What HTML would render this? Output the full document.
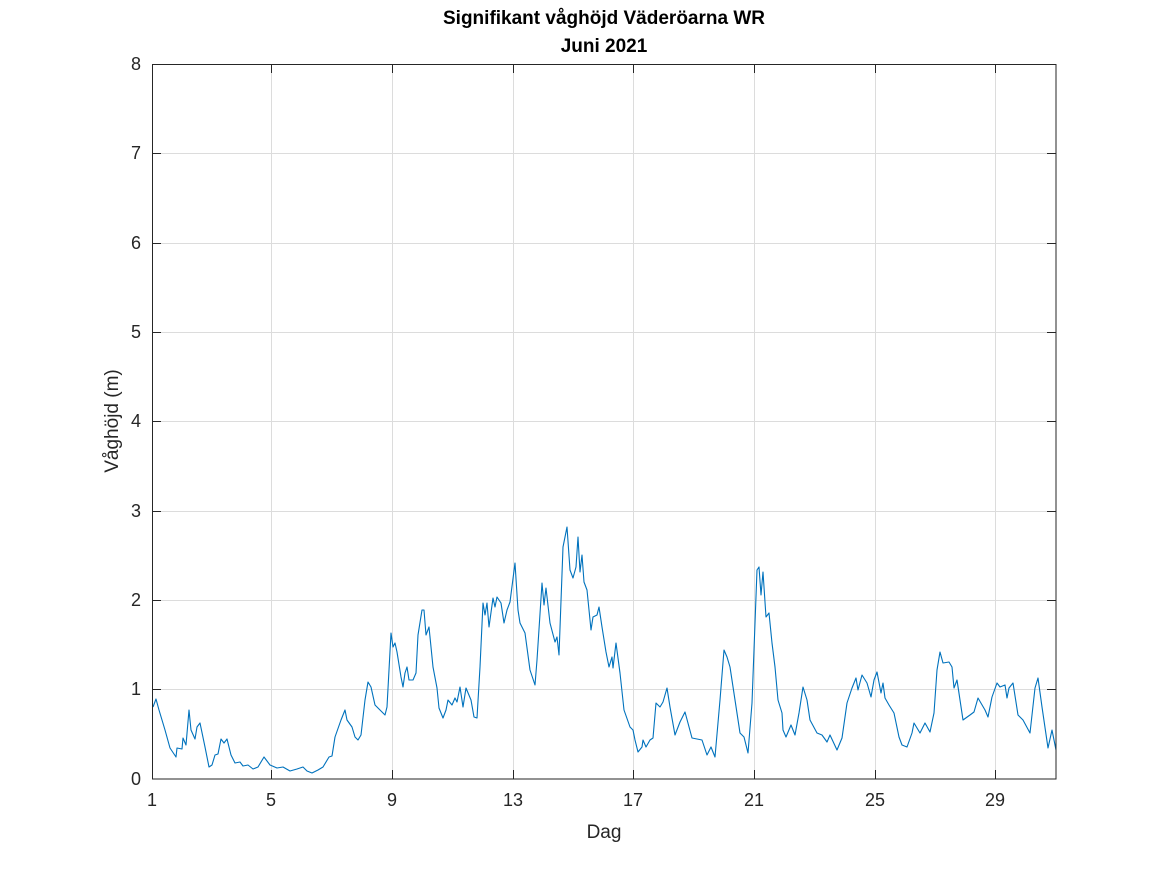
<!DOCTYPE html>
<html><head><meta charset="utf-8"><style>body{margin:0;background:#fff}</style></head><body>
<svg width="1167" height="875" xmlns="http://www.w3.org/2000/svg" font-family="Liberation Sans, DejaVu Sans, sans-serif">
<rect width="1167" height="875" fill="#fff"/>
<g stroke="#dcdcdc" stroke-width="1">
<line x1="271.5" y1="64" x2="271.5" y2="779"/><line x1="392.5" y1="64" x2="392.5" y2="779"/><line x1="513.5" y1="64" x2="513.5" y2="779"/><line x1="633.5" y1="64" x2="633.5" y2="779"/><line x1="754.5" y1="64" x2="754.5" y2="779"/><line x1="875.5" y1="64" x2="875.5" y2="779"/><line x1="995.5" y1="64" x2="995.5" y2="779"/>
<line x1="152" y1="689.5" x2="1056" y2="689.5"/><line x1="152" y1="600.5" x2="1056" y2="600.5"/><line x1="152" y1="511.5" x2="1056" y2="511.5"/><line x1="152" y1="421.5" x2="1056" y2="421.5"/><line x1="152" y1="332.5" x2="1056" y2="332.5"/><line x1="152" y1="243.5" x2="1056" y2="243.5"/><line x1="152" y1="153.5" x2="1056" y2="153.5"/>
</g>
<polyline fill="none" stroke="#0072BD" stroke-width="1.1" stroke-linejoin="round" points="153,707 156,699 159,710 165,730 170,748 176,757 177,748 182,749 183,738 186,745 189,710 191,730 195,739 197,727 200,723 205,747 209,767 212,765 215,755 218,754 221,739 224,743 227,739 231,755 235,763 240,762 243,766 248,765 253,769 258,767 264,757 270,765 277,768 283,767 290,771 297,769 303,767 307,771 312,773 318,770 323,767 329,757 332,756 335,737 341,720 345,710 347,720 352,727 355,737 358,740 361,735 365,700 368,682 371,687 375,705 380,710 385,715 387,707 391,633 393,647 395,643 397,652 401,677 403,687 405,673 407,667 409,680 413,680 416,673 418,635 422,610 424,610 426,635 429,627 433,667 437,688 439,708 443,718 446,710 448,700 452,705 455,698 457,702 460,687 463,707 466,688 471,700 474,717 477,718 480,667 483,603 485,615 487,603 489,627 493,598 495,607 497,597 501,603 504,623 507,610 510,602 515,563 518,610 520,623 525,633 530,670 535,685 537,660 542,583 544,605 546,588 550,623 555,642 557,637 559,655 563,547 567,527 570,570 573,578 576,567 578,537 580,572 582,555 584,582 587,590 591,630 593,617 597,615 599,607 602,627 606,652 609,667 612,657 613,668 616,643 620,673 624,710 630,727 633,730 635,740 638,752 642,747 643,740 646,747 650,740 653,738 656,703 660,707 663,702 667,688 670,707 675,735 680,722 685,712 692,738 702,740 707,755 711,747 715,757 720,700 724,650 727,657 730,667 735,700 740,733 744,737 748,753 752,703 757,570 759,567 761,595 763,572 766,617 769,613 772,643 775,667 778,700 782,713 783,730 786,737 791,725 795,735 799,713 803,687 807,700 810,720 817,733 822,735 827,742 830,735 837,750 842,738 847,703 852,688 856,678 858,690 862,675 867,683 871,697 874,680 877,672 881,693 883,683 885,698 889,705 894,713 899,737 902,745 907,747 912,733 914,723 920,733 925,723 930,732 934,713 937,670 940,652 943,663 949,662 952,667 954,688 957,680 963,720 970,715 974,712 978,698 985,710 988,717 992,697 997,683 1000,687 1005,685 1007,698 1009,688 1013,683 1018,715 1023,720 1030,733 1035,688 1038,678 1042,707 1048,748 1052,730 1056,750"/>
<rect x="152.5" y="64.5" width="903.5" height="714.5" fill="none" stroke="#262626" stroke-width="1"/>
<g stroke="#262626" stroke-width="1">
<line x1="271.5" y1="779" x2="271.5" y2="770"/><line x1="392.5" y1="779" x2="392.5" y2="770"/><line x1="513.5" y1="779" x2="513.5" y2="770"/><line x1="633.5" y1="779" x2="633.5" y2="770"/><line x1="754.5" y1="779" x2="754.5" y2="770"/><line x1="875.5" y1="779" x2="875.5" y2="770"/><line x1="995.5" y1="779" x2="995.5" y2="770"/>
<line x1="271.5" y1="64" x2="271.5" y2="73"/><line x1="392.5" y1="64" x2="392.5" y2="73"/><line x1="513.5" y1="64" x2="513.5" y2="73"/><line x1="633.5" y1="64" x2="633.5" y2="73"/><line x1="754.5" y1="64" x2="754.5" y2="73"/><line x1="875.5" y1="64" x2="875.5" y2="73"/><line x1="995.5" y1="64" x2="995.5" y2="73"/>
<path d="M152 689.5h9M152 600.5h9M152 511.5h9M152 421.5h9M152 332.5h9M152 243.5h9M152 153.5h9M1056 689.5h-9M1056 600.5h-9M1056 511.5h-9M1056 421.5h-9M1056 332.5h-9M1056 243.5h-9M1056 153.5h-9"/>
</g>
<g font-size="18" fill="#262626" text-anchor="end">
<text x="141" y="785">0</text><text x="141" y="695">1</text><text x="141" y="606">2</text><text x="141" y="517">3</text><text x="141" y="427">4</text><text x="141" y="338">5</text><text x="141" y="249">6</text><text x="141" y="159">7</text><text x="141" y="70">8</text>
</g>
<g font-size="18" fill="#262626" text-anchor="middle">
<text x="152" y="806">1</text><text x="271" y="806">5</text><text x="392" y="806">9</text><text x="513" y="806">13</text><text x="633" y="806">17</text><text x="754" y="806">21</text><text x="875" y="806">25</text><text x="995" y="806">29</text>
<text x="604" y="838" font-size="19">Dag</text>
<text x="118" y="421" font-size="19" transform="rotate(-90 118 421)">Våghöjd (m)</text>
<text x="604" y="24" font-size="19" font-weight="bold" fill="#000">Signifikant våghöjd Väderöarna WR</text>
<text x="604" y="52" font-size="19" font-weight="bold" fill="#000">Juni 2021</text>
</g>
</svg>
</body></html>
